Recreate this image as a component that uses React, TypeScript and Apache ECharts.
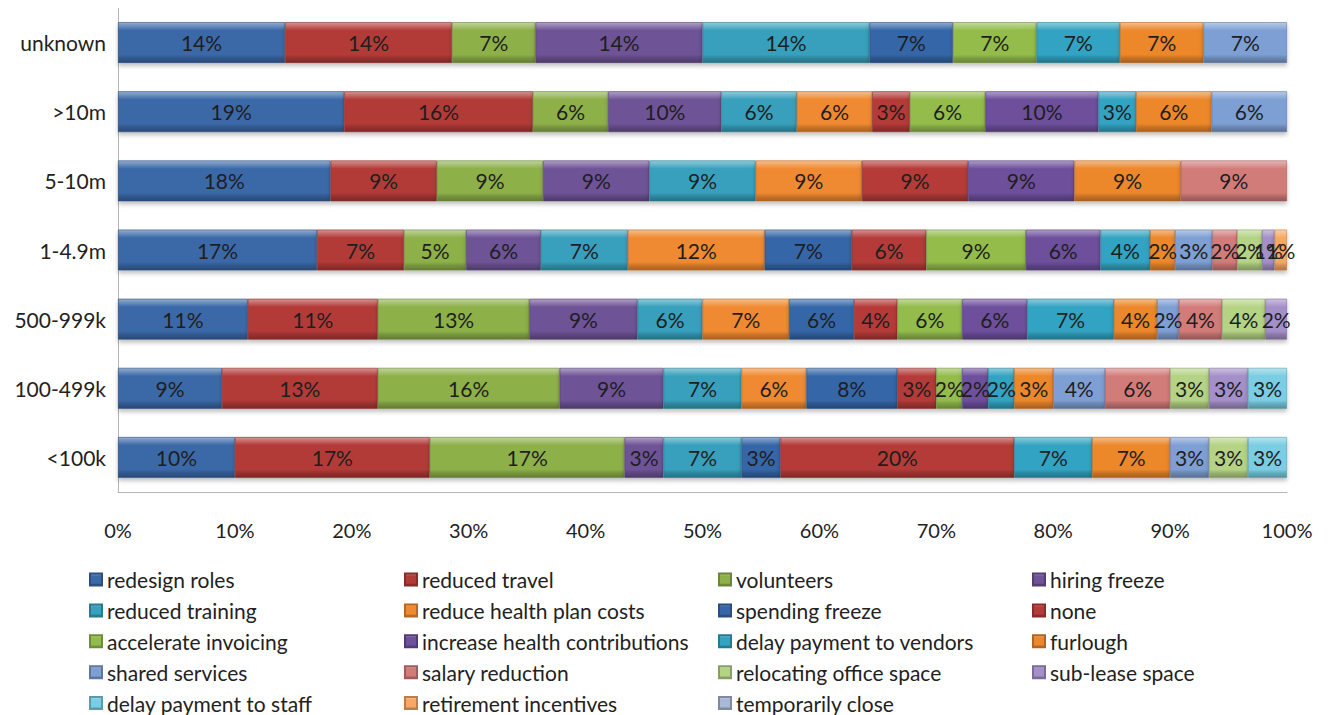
import React, { useEffect, useRef } from "react";
import * as echarts from "echarts";

// categories, bottom to top
const categories = ["<100k", "100-499k", "500-999k", "1-4.9m", "5-10m", ">10m", "unknown"];
const xTicks = [0, 10, 20, 30, 40, 50, 60, 70, 80, 90, 100];

// response counts per category (same order as categories); shown as share of the row
const redesignRoles = [3, 8, 6, 16, 2, 6, 2];
const reducedTravel = [5, 12, 6, 7, 1, 5, 2];
const volunteers = [5, 14, 7, 5, 1, 2, 1];
const hiringFreeze = [1, 8, 5, 6, 1, 3, 2];
const reducedTraining = [2, 6, 3, 7, 1, 2, 2];
const reduceHealthPlanCosts = [0, 5, 4, 11, 1, 2, 0];
const spendingFreeze = [1, 7, 3, 7, 0, 0, 1];
const none = [6, 3, 2, 6, 1, 1, 0];
const accelerateInvoicing = [0, 2, 3, 8, 0, 2, 1];
const increaseHealthContributions = [0, 2, 3, 6, 1, 3, 0];
const delayPaymentToVendors = [2, 2, 4, 4, 0, 1, 1];
const furlough = [2, 3, 2, 2, 1, 2, 1];
const sharedServices = [1, 4, 1, 3, 0, 2, 1];
const salaryReduction = [0, 5, 2, 2, 1, 0, 0];
const relocatingOfficeSpace = [1, 3, 2, 2, 0, 0, 0];
const subLeaseSpace = [0, 3, 1, 1, 0, 0, 0];
const delayPaymentToStaff = [1, 3, 0, 0, 0, 0, 0];
const retirementIncentives = [0, 0, 0, 1, 0, 0, 0];
const temporarilyClose = [0, 0, 0, 0, 0, 0, 0];

const seriesNames = [
  "redesign roles", "reduced travel", "volunteers", "hiring freeze",
  "reduced training", "reduce health plan costs", "spending freeze", "none",
  "accelerate invoicing", "increase health contributions", "delay payment to vendors", "furlough",
  "shared services", "salary reduction", "relocating office space", "sub-lease space",
  "delay payment to staff", "retirement incentives", "temporarily close",
];
const seriesValues = [
  redesignRoles, reducedTravel, volunteers, hiringFreeze,
  reducedTraining, reduceHealthPlanCosts, spendingFreeze, none,
  accelerateInvoicing, increaseHealthContributions, delayPaymentToVendors, furlough,
  sharedServices, salaryReduction, relocatingOfficeSpace, subLeaseSpace,
  delayPaymentToStaff, retirementIncentives, temporarilyClose,
];
const seriesColors = [
  "#3A69A8", "#B23A37", "#8DB04A", "#6E5396",
  "#37A0BC", "#F08A30", "#3566A8", "#B43B38",
  "#93BC4C", "#6D4F9C", "#33A3C2", "#EC872C",
  "#7E9FD3", "#D27C7A", "#B4D385", "#A48FC8",
  "#7ACDE2", "#F8A862", "#A9B8D6",
];

function shade(hex: string, amt: number) {
  const n = parseInt(hex.slice(1), 16);
  let r = (n >> 16) & 255, g = (n >> 8) & 255, b = n & 255;
  const f = (c: number) => amt >= 0 ? Math.round(c + (255 - c) * amt) : Math.round(c * (1 + amt));
  r = f(r); g = f(g); b = f(b);
  return "#" + ((1 << 24) + (r << 16) + (g << 8) + b).toString(16).slice(1);
}

function grad(c: string) {
  return new echarts.graphic.LinearGradient(0, 0, 0, 1, [
    { offset: 0, color: shade(c, 0.45) },
    { offset: 0.12, color: shade(c, 0.18) },
    { offset: 0.2, color: c },
    { offset: 0.8, color: c },
    { offset: 0.88, color: shade(c, -0.15) },
    { offset: 1, color: shade(c, -0.3) },
  ]);
}

const FONT = "Lato";

export default function App() {
  const ref = useRef<HTMLDivElement>(null);
  useEffect(() => {
    if (!ref.current) return;
    const chart = echarts.init(ref.current, null, { renderer: "svg" });
    const totals = categories.map((_, i) => seriesValues.reduce((s, arr) => s + arr[i], 0));
    const series = seriesNames.map((name, k) => ({
      name,
      type: "bar",
      stack: "total",
      barCategoryGap: "41%",
      data: seriesValues[k].map((v, i) => (v > 0 ? (v / totals[i]) * 100 : "-")),
      itemStyle: {
        color: grad(seriesColors[k]),
        borderColor: shade(seriesColors[k], -0.25),
        borderWidth: 0.6,
        shadowColor: "rgba(0,0,0,0.25)",
        shadowBlur: 4,
        shadowOffsetY: 3,
      },
      label: {
        show: true,
        position: "inside",
        color: "#1e1e1e",
        fontFamily: FONT,
        fontSize: 21,
        formatter: (p: any) => Math.round(p.value) + "%",
      },
    }));
    const legendCols = [0, 1, 2, 3].map((c) => seriesNames.filter((_, i) => i % 4 === c));
    const legendLeft = [81, 396, 710, 1024];
    chart.setOption({
      animation: false,
      textStyle: { fontFamily: FONT },
      grid: { left: 110, right: 33, top: 0, height: 484 },
      xAxis: {
        type: "value",
        min: 0,
        max: 100,
        interval: 10,
        axisLine: { show: true, lineStyle: { color: "#b5b5b5" } },
        axisTick: { show: false },
        splitLine: { show: false },
        axisLabel: {
          formatter: (v: number) => (xTicks.includes(v) ? v + "%" : ""),
          color: "#222",
          fontFamily: FONT,
          fontSize: 20,
          margin: 28,
        },
      },
      yAxis: {
        type: "category",
        data: categories,
        axisLine: { show: true, lineStyle: { color: "#b5b5b5" } },
        axisTick: { show: false },
        axisLabel: { color: "#222", fontFamily: FONT, fontSize: 21, margin: 12 },
      },
      legend: legendCols.map((col, c) => ({
        orient: "vertical",
        left: legendLeft[c],
        top: 561,
        height: 180,
        padding: 0,
        itemWidth: 12,
        itemHeight: 12,
        itemGap: 9.9,
        icon: "rect",
        data: col,
        textStyle: { fontFamily: FONT, fontSize: 21, color: "#222", lineHeight: 20.7 },
      })),
      series,
    });
    return () => chart.dispose();
  }, []);
  return <div ref={ref} style={{ width: 1312, height: 707 }} />;
}
